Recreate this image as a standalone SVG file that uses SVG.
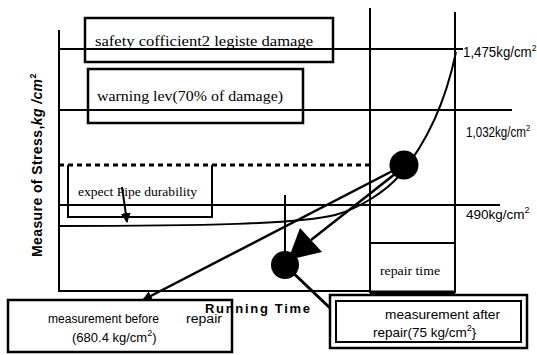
<svg xmlns="http://www.w3.org/2000/svg" width="537" height="355" viewBox="0 0 537 355">
<style>
.ln{stroke:#000;fill:none;stroke-width:2}
.bx{stroke:#000;fill:none;stroke-width:2.5}
.serif{font-family:"Liberation Serif","Times New Roman",serif;fill:#000}
.sans{font-family:"Liberation Sans",Arial,sans-serif;fill:#000}
.bold{font-family:"Liberation Sans",Arial,sans-serif;font-weight:bold;fill:#000}
</style>
<defs>
<marker id="ah" viewBox="0 0 10 10" refX="9" refY="5" markerWidth="4" markerHeight="4" orient="auto" markerUnits="strokeWidth">
<path d="M0,0 L10,5 L0,10 z" fill="#000"/>
</marker>
<marker id="ah2" viewBox="0 0 10 10" refX="9" refY="5" markerWidth="5" markerHeight="5" orient="auto" markerUnits="strokeWidth">
<path d="M0,0 L10,5 L0,10 z" fill="#000"/>
</marker>
</defs>
<rect width="537" height="355" fill="#fff"/>

<g id="axes">
<line class="ln" x1="59" y1="30" x2="59" y2="292"/>
<line class="ln" x1="59" y1="291" x2="370" y2="291"/>
<line class="ln" x1="59" y1="49" x2="463" y2="49"/>
<line class="ln" x1="59" y1="110" x2="512" y2="110"/>
<line class="ln" x1="59" y1="205" x2="500" y2="205"/>
<line x1="59" y1="165" x2="370" y2="165" stroke="#000" stroke-width="3" stroke-dasharray="5 4"/>
<line class="ln" x1="370" y1="8" x2="370" y2="293" stroke-width="2.5"/>
<line class="ln" x1="455" y1="12" x2="455" y2="293" stroke-width="2.5"/>
<line class="ln" x1="285" y1="195" x2="285" y2="262"/>
</g>

<g id="ylabel">
<text class="bold" font-size="14" letter-spacing="0.4" transform="translate(42,257) rotate(-90)">Measure of Stress,<tspan font-style="italic">kg /cm</tspan><tspan font-size="9" dy="-6">2</tspan></text>
</g>
<g id="xlabel">
<text class="bold" x="205" y="313" font-size="13" textLength="105" lengthAdjust="spacing">Running Time</text>
</g>

<g id="levels">
<text class="sans" font-size="14" transform="translate(463,57) scale(0.95,1)">1,475kg/cm<tspan font-size="9" dy="-6">2</tspan></text>
<text class="sans" font-size="14" transform="translate(466,137) scale(0.83,1)">1,032kg/cm<tspan font-size="9" dy="-6">2</tspan></text>
<text class="sans" font-size="13.5" transform="translate(466,219)">490kg/cm<tspan font-size="9" dy="-6">2</tspan></text>
</g>

<g id="safety">
<rect class="bx" x="85" y="18" width="248" height="44"/>
<text class="serif" x="95" y="46" font-size="14" textLength="218" lengthAdjust="spacingAndGlyphs">safety cofficient2 legiste damage</text>
</g>
<g id="warning">
<rect class="bx" x="88" y="69" width="215" height="54"/>
<text class="serif" x="97" y="101" font-size="14" textLength="186" lengthAdjust="spacingAndGlyphs">warning lev(70% of damage)</text>
</g>
<g id="expect">
<path class="ln" d="M68,165 L68,217 L212,217 L212,165"/>
<text class="serif" x="78" y="196" font-size="13" textLength="119" lengthAdjust="spacingAndGlyphs">expect Pipe durability</text>
</g>
<g id="repair">
<rect class="ln" x="370" y="243" width="85" height="49"/>
<text class="serif" x="380" y="275" font-size="12" textLength="60" lengthAdjust="spacingAndGlyphs">repair time</text>
</g>
<g id="before">
<rect class="bx" x="8" y="300" width="224" height="52"/>
<text class="sans" x="48" y="323" font-size="12.5" textLength="111" lengthAdjust="spacingAndGlyphs">measurement before</text>
<text class="sans" x="186" y="323" font-size="12.5" textLength="36" lengthAdjust="spacingAndGlyphs">repair</text>
<text class="sans" x="72" y="342" font-size="13">(680.4  kg/cm<tspan font-size="9" dy="-6">2</tspan><tspan dy="6">)</tspan></text>
</g>
<g id="after">
<rect class="bx" x="330" y="295" width="197" height="53"/>
<rect class="ln" x="336" y="301" width="185" height="41"/>
<line x1="370" y1="293" x2="455" y2="293" stroke="#000" stroke-width="5"/>
<text class="sans" x="385" y="319" font-size="13.5" textLength="115" lengthAdjust="spacingAndGlyphs">measurement after</text>
<text class="sans" x="373" y="337" font-size="13.5">repair(75 kg/cm<tspan font-size="9" dy="-6">2</tspan><tspan dy="6">}</tspan></text>
</g>

<g id="connectors">
<path class="ln" d="M59,226 C200,226 300,224 335,215 C360,208 385,192 400,175 C425,145 445,105 456,52"/>
<line x1="404" y1="165" x2="143" y2="300" stroke="#000" stroke-width="2.5" marker-end="url(#ah)"/>
<line x1="400" y1="170" x2="311" y2="240" stroke="#000" stroke-width="2.5"/>
<polygon points="300,228 322,252 288,260" fill="#000"/>
<line x1="122" y1="187" x2="127" y2="222" stroke="#000" stroke-width="2" marker-end="url(#ah2)"/>
<line x1="288" y1="268" x2="330" y2="308" stroke="#000" stroke-width="3"/>
<circle cx="404" cy="165" r="14.5" fill="#000"/>
<circle cx="285" cy="265" r="14" fill="#000"/>
</g>
</svg>
